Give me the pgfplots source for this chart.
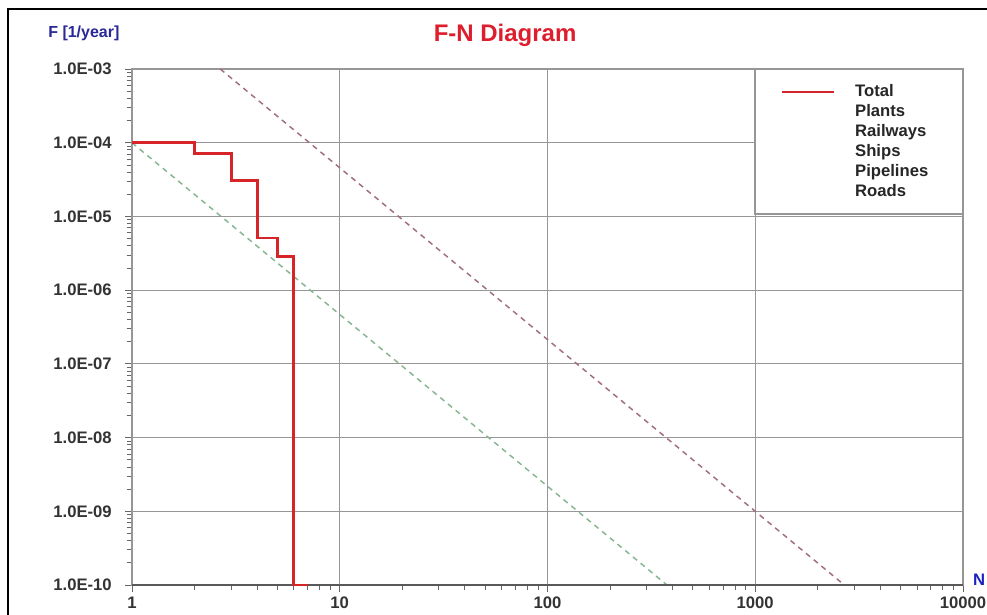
\documentclass[border=0pt]{standalone}
\usepackage{fontspec}
\setmainfont{Liberation Sans}
\usepackage{pgfplots}
\pgfplotsset{compat=1.18}

\definecolor{totred}{RGB}{214,36,40}
\definecolor{critred}{RGB}{160,110,125}
\definecolor{critgreen}{RGB}{135,180,145}
\definecolor{gridgray}{RGB}{150,150,150}
\definecolor{titlered}{RGB}{222,30,45}
\definecolor{labblue}{RGB}{40,40,150}
\definecolor{nblue}{RGB}{25,35,190}

\begin{document}
\begin{tikzpicture}
\begin{axis}[
  scale only axis,
  width=623.25pt, height=387pt,
  xmode=log, ymode=log,
  xmin=1, xmax=10000, ymin=1e-10, ymax=1e-3,
  xtick={1,10,100,1000,10000},
  xticklabels={1,10,100,1000,10000},
  ytick={1e-10,1e-9,1e-8,1e-7,1e-6,1e-5,1e-4,1e-3},
  yticklabels={1.0E-10,1.0E-09,1.0E-08,1.0E-07,1.0E-06,1.0E-05,1.0E-04,1.0E-03},
  xtick pos=bottom, ytick pos=left,
  tick align=outside,
  major tick length=5pt, minor tick length=4pt,
  every tick/.style={gray!80!black, line width=0.6pt},
  grid=major,
  major grid style={gridgray, line width=0.75pt},
  axis line style={gridgray, line width=0.9pt},
  ticklabel style={font=\fontsize{12.5}{15}\selectfont\bfseries, text=black!80},
  xticklabel style={anchor=north, inner sep=0pt, yshift=-4pt},
  yticklabel style={anchor=east, inner sep=0pt, xshift=-10pt},
  clip mode=individual,
  legend style={at={(rel axis cs:0.781,0.971)}, anchor=north west,
    draw=none, fill=none, inner sep=0pt, outer sep=0pt, row sep=2.5pt,
    font=\fontsize{12.5}{15}\selectfont\bfseries, text=black!85,
    nodes={inner sep=0pt, text height=9.5pt, text depth=3pt},
    /tikz/every odd column/.append style={column sep=15pt}},
  legend image code/.code={\draw[#1, line width=1.6pt] (0pt,0pt) -- (39pt,0pt);},
  legend cell align=left,
]
% criterion lines
\addplot[critred, line width=1.1pt, dash pattern=on 4pt off 3.5pt, forget plot]
  coordinates {(2.66,1e-3) (2685,1e-10)};
\addplot[critgreen, line width=1.1pt, dash pattern=on 4pt off 3.5pt, forget plot]
  coordinates {(1,1e-4) (376,1e-10)};

% legend box and bottom axis line
\draw[gridgray, line width=0.9pt, fill=white] (rel axis cs:0.7497,0.719) rectangle (rel axis cs:1,1);
\draw[gray!70!black, line width=1.5pt] (rel axis cs:0,0) -- (rel axis cs:1,0);

% total
\addplot[totred, line width=2.2pt, const plot] coordinates {
  (1,1e-4) (2,7.2e-5) (3,3.1e-5) (4,5.1e-6) (5,2.9e-6) (6,1e-10) (7,1e-10)};
\addlegendimage{empty legend}
\addlegendimage{empty legend}
\addlegendimage{empty legend}
\addlegendimage{empty legend}
\addlegendimage{empty legend}
\legend{Total,Plants,Railways,Ships,Pipelines,Roads}

% titles
\node[anchor=base, font=\fontsize{18}{20}\selectfont\bfseries, text=titlered, inner sep=0pt]
  at (rel axis cs:0.449,1.053) {F-N Diagram};
\node[anchor=base west, font=\fontsize{12}{14}\selectfont\bfseries, text=labblue, inner sep=0pt]
  at (rel axis cs:-0.101,1.062) {F [1/year]};
\node[anchor=base west, font=\fontsize{12.5}{15}\selectfont\bfseries, text=nblue, inner sep=0pt]
  at (rel axis cs:1.012,0) {N};

% outer frame
\draw[black, line width=1.5pt] (rel axis cs:-0.1492,-0.08) -- (rel axis cs:-0.1492,1.1163) -- (rel axis cs:1.05,1.1163);

\coordinate (bl) at (rel axis cs:-0.1588,-0.0562);
\coordinate (tr) at (rel axis cs:1.0289,1.1337);
\end{axis}
\pgfresetboundingbox
\path[use as bounding box] (bl) rectangle (tr);
\end{tikzpicture}
\end{document}
